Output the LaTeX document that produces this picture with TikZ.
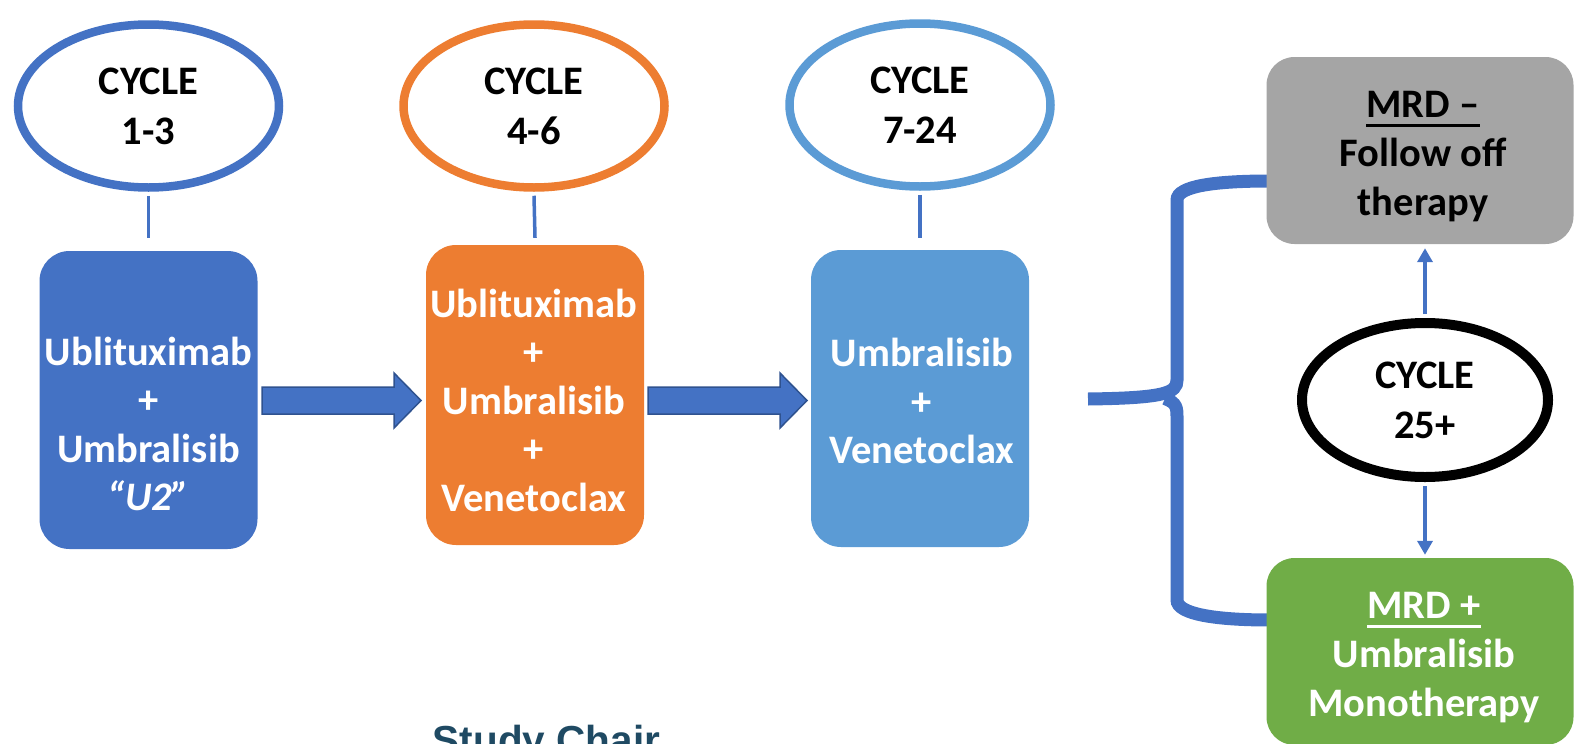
\documentclass[tikz,border=0pt]{standalone}
\usepackage{fontspec}
\setmainfont{Carlito}
\newfontfamily\chairfont{Liberation Sans}
\usetikzlibrary{shapes.geometric,arrows.meta}
\definecolor{cblue}{HTML}{4472C4}
\definecolor{corange}{HTML}{ED7D31}
\definecolor{clight}{HTML}{5B9BD5}
\definecolor{cgray}{HTML}{A5A5A5}
\definecolor{cgreen}{HTML}{70AD47}
\definecolor{cedge}{HTML}{2F528F}
\definecolor{cchair}{HTML}{1F4A63}
\newcommand\myul[1]{\setbox0=\hbox{#1}\rlap{\rule[-9pt]{\wd0}{3pt}}\box0}
\begin{document}
\begin{tikzpicture}[x=1pt,y=-1pt,
  cyc/.style={ellipse,draw,line width=8.5pt,fill=white,minimum width=261pt,minimum height=163pt,inner sep=0pt,align=center,font=\bfseries\fontsize{40.5}{50}\selectfont},
  drugbox/.style={rounded corners=30pt,minimum width=218pt,minimum height=298pt,inner sep=0pt},
  druglbl/.style={align=center,text=white,font=\bfseries\fontsize{40.5}{48.5}\selectfont,inner sep=0pt},
  mrdbox/.style={rounded corners=28pt,minimum width=307pt,minimum height=187pt,inner sep=0pt},
  mrdlbl/.style={align=center,inner sep=0pt,font=\bfseries\fontsize{40.5}{49}\selectfont},
  tie/.style={draw=cblue,line width=3.5pt},
  blockarrow/.style={fill=cblue,draw=cedge,line width=1.5pt,line join=miter},
  bracepath/.style={draw=cblue,line width=13pt},
  vlink/.style={draw=cblue,line width=3.5pt,-{Triangle[width=15pt,length=14pt]}}
]
\useasboundingbox (0,0) rectangle (1574,744);

% brace
\draw[bracepath] (1270,181) .. controls (1215,181) and (1177,186) .. (1177,200) -- (1177,380) .. controls (1177,393) and (1165,398) .. (1088,399);
\draw[bracepath] (1165,398.5) .. controls (1177,403) and (1177,408) .. (1177,418) -- (1177,600) .. controls (1177,614) and (1215,620) .. (1270,620);

% drug boxes
\node[drugbox,fill=cblue] (b1) at (148.5,400) {};
\node[drugbox,fill=corange,minimum height=300pt] (b2) at (535,395) {};
\node[drugbox,fill=clight,minimum height=297pt] (b3) at (920,398.5) {};

\node[druglbl] (t1) at (148.5,424) {Ublituximab\\+\\Umbralisib\\\textit{“U2”}};
\node[druglbl] (t2) at (534,400) {Ublituximab\\+\\Umbralisib\\+\\Venetoclax};
\node[druglbl] (t3) at (922,401) {Umbralisib\\+\\Venetoclax};

% cycle ellipses
\node[cyc,draw=cblue] (e1) at (148.5,106) {CYCLE\\1-3};
\node[cyc,draw=corange] (e2) at (534,106) {CYCLE\\4-6};
\node[cyc,draw=clight] (e3) at (920,105) {CYCLE\\7-24};

\draw[tie] ([yshift=-4pt]e1.south) -- ([yshift=13pt]b1.north);
\draw[tie] ([yshift=-4pt]e2.south) -- ([yshift=7pt]b2.north);
\draw[tie] ([yshift=-4pt]e3.south) -- ([yshift=12pt]b3.north);

% block arrows
\filldraw[blockarrow] (262,387) -- (394,387) -- (394,373) -- (421,400.5) -- (394,428) -- (394,414) -- (262,414) -- cycle;
\filldraw[blockarrow] (648,387) -- (780,387) -- (780,373) -- (807,400.5) -- (780,428) -- (780,414) -- (648,414) -- cycle;

% outcome boxes
\node[mrdbox,fill=cgray] (gray) at (1420,150.5) {};
\node[mrdbox,fill=cgreen] (green) at (1420,651.5) {};
\node[mrdlbl] (graytext) at (1423,157) {\myul{MRD –}\\Follow off\\therapy};
\node[mrdlbl,text=white] (greentext) at (1424,658) {\myul{MRD +}\\Umbralisib\\Monotherapy};

% cycle 25+
\node[cyc,draw=black,line width=10pt,minimum width=246pt,minimum height=154pt] (e4) at (1425,400) {CYCLE\\25+};
\path (e4.north |- gray.south) ++(0,4) coordinate (upend);
\path (e4.south |- green.north) ++(0,-3) coordinate (downend);
\draw[vlink] ([yshift=4pt]e4.north) -- (upend);
\draw[vlink] ([yshift=-4pt]e4.south) -- (downend);

% study chair
\node[font=\chairfont\bfseries\fontsize{40.5}{48}\selectfont,text=cchair,anchor=base,inner sep=0pt] (chair) at (546.5,754) {Study Chair};
\end{tikzpicture}
\end{document}
